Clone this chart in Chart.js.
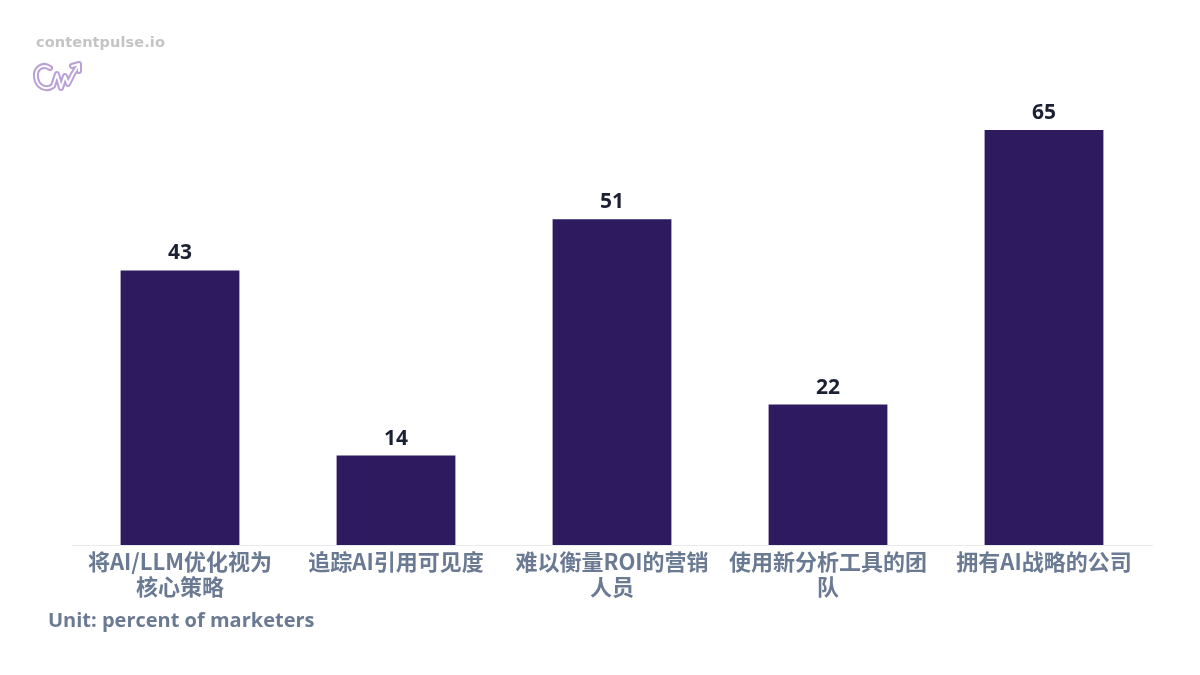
<!DOCTYPE html>
<html>
<head>
<meta charset="utf-8">
<script src="https://cdn.jsdelivr.net/npm/chart.js@4"></script>
<style>
  html, body { margin: 0; padding: 0; background: #ffffff; }
  #wrap { position: relative; width: 1200px; height: 675px; overflow: hidden; }
  #brand { position: absolute; left: 36px; top: 34px; font-family: "DejaVu Sans", "Noto Sans", sans-serif; font-weight: bold; font-size: 14.5px; color: #c4c4c4; letter-spacing: 0.1px; }
  #logo { position: absolute; left: 33px; top: 60px; }
  #unit { position: absolute; left: 48px; top: 606px; font-family: "Open Sans", "Noto Sans CJK SC", sans-serif; font-weight: bold; font-size: 20px; color: #6b7a93; }
  canvas { position: absolute; left: 0; top: 0; }
</style>
</head>
<body>
<div id="wrap">
  <canvas id="c" width="1200" height="675"></canvas>
  <div id="brand">contentpulse.io</div>
  <svg id="logo" width="52" height="38" viewBox="0 0 52 38">
    <g fill="none" stroke="#b9a0d6" stroke-width="6" stroke-linecap="round" stroke-linejoin="round">
      <path d="M17 8 C10 3 2 8 3 17 C4 27 13 31 20 26 L24 14 L28 28 L32 16 L35 24 L40 14 L45 6"/>
      <path d="M39 6 L46 4 L46 11"/>
    </g>
    <g fill="none" stroke="#ffffff" stroke-width="2" stroke-linecap="round" stroke-linejoin="round">
      <path d="M17 8 C10 3 2 8 3 17 C4 27 13 31 20 26 L24 14 L28 28 L32 16 L35 24 L40 14 L45 6"/>
      <path d="M39 6 L46 4 L46 11"/>
    </g>
  </svg>
  <div id="unit">Unit: percent of marketers</div>
</div>
<script>
const categories = [
  ["将AI/LLM优化视为", "核心策略"],
  ["追踪AI引用可见度"],
  ["难以衡量ROI的营销", "人员"],
  ["使用新分析工具的团", "队"],
  ["拥有AI战略的公司"]
];
const values = [43, 14, 51, 22, 65];
const yMin = 0;
const yMax = 70;

const valueLabels = {
  id: 'valueLabels',
  afterDatasetsDraw(chart) {
    const ctx = chart.ctx;
    const meta = chart.getDatasetMeta(0);
    ctx.save();
    ctx.font = 'bold 21px "Open Sans", "Noto Sans CJK SC", sans-serif';
    ctx.fillStyle = '#1c2033';
    ctx.textAlign = 'center';
    ctx.textBaseline = 'alphabetic';
    meta.data.forEach((bar, i) => {
      ctx.fillText(String(chart.data.datasets[0].data[i]), bar.x, bar.y - 11);
    });
    ctx.restore();
  }
};

new Chart(document.getElementById('c'), {
  type: 'bar',
  data: {
    labels: categories,
    datasets: [{
      data: values,
      backgroundColor: '#2e1a5f',
      borderWidth: 0,
      barPercentage: 0.55,
      categoryPercentage: 1.0
    }]
  },
  options: {
    responsive: false,
    animation: false,
    events: [],
    layout: { padding: { left: 72, right: 48, top: 98, bottom: 30 } },
    plugins: { legend: { display: false }, tooltip: { enabled: false } },
    scales: {
      x: {
        grid: { display: false, drawTicks: false },
        border: { display: true, color: '#e8eaee', width: 1 },
        ticks: {
          color: '#6b7a93',
          font: { family: '"Noto Sans CJK SC", sans-serif', weight: 'bold', size: 22, lineHeight: 1.1 },
          padding: 5,
          maxRotation: 0,
          autoSkip: false
        },
        afterFit(scale) { scale.height = 100; }
      },
      y: {
        display: false,
        min: yMin,
        max: yMax
      }
    }
  },
  plugins: [valueLabels]
});
</script>
</body>
</html>
